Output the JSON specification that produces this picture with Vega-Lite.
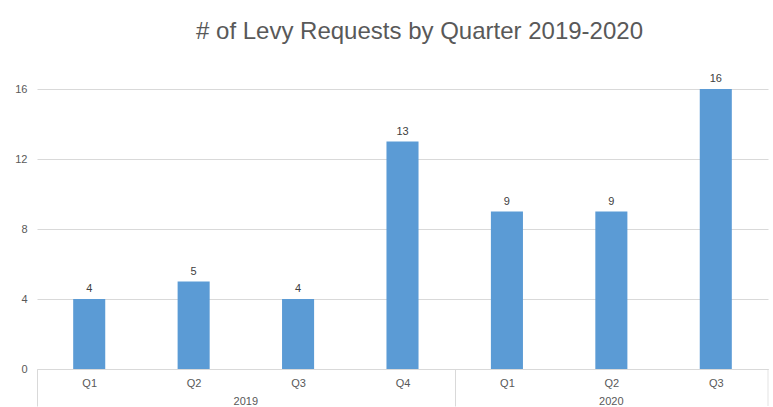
{
  "$schema": "https://vega.github.io/schema/vega-lite/v6.json",
  "autosize": {"type": "fit", "contains": "padding"},
  "width": 773,
  "height": 407,
  "padding": {"left": 14, "top": 20, "right": 4, "bottom": 0},
  "background": "white",
  "config": {
    "view": {"stroke": null},
    "font": "Liberation Sans",
    "axis": {"labelColor": "#595959", "labelFontSize": 11, "labelFont": "Liberation Sans"},
    "axisY": {"tickCount": 9}
  },
  "title": {
    "text": "# of Levy Requests by Quarter 2019-2020",
    "fontSize": 24,
    "font": "Liberation Sans",
    "fontWeight": "normal",
    "color": "#595959",
    "anchor": "middle",
    "dx": 17,
    "offset": 10
  },
  "data": {
    "values": [
      {"period": "2019-Q1", "year": "2019", "quarter": "Q1", "requests": 4},
      {"period": "2019-Q2", "year": "2019", "quarter": "Q2", "requests": 5},
      {"period": "2019-Q3", "year": "2019", "quarter": "Q3", "requests": 4},
      {"period": "2019-Q4", "year": "2019", "quarter": "Q4", "requests": 13},
      {"period": "2020-Q1", "year": "2020", "quarter": "Q1", "requests": 9},
      {"period": "2020-Q2", "year": "2020", "quarter": "Q2", "requests": 9},
      {"period": "2020-Q3", "year": "2020", "quarter": "Q3", "requests": 16}
    ]
  },
  "layer": [
    {
      "mark": {"type": "bar", "color": "#5B9BD5", "width": {"band": 0.307}},
      "encoding": {
        "x": {
          "field": "period",
          "type": "nominal",
          "scale": {"paddingInner": 0, "paddingOuter": 0},
          "axis": {
            "title": null,
            "labelAngle": 0,
            "labelExpr": "slice(datum.value, 5)",
            "labelOffset": 52.2,
            "domainColor": "#D9D9D9",
            "tickSize": 37,
            "tickOffset": -52.2,
            "tickColor": "#D9D9D9",
            "tickOpacity": {"condition": {"test": "datum.value == '2019-Q1' || datum.value == '2020-Q1'", "value": 1}, "value": 0},
            "labelPadding": -29
          }
        },
        "y": {
          "field": "requests",
          "type": "quantitative",
          "scale": {"domain": [0, 18], "nice": false},
          "axis": {
            "title": null,
            "values": [0, 2, 4, 6, 8, 10, 12, 14, 16, 18],
            "domain": false,
            "ticks": false,
            "grid": true,
            "gridColor": "#D9D9D9",
            "labelPadding": 10
          }
        }
      }
    },
    {
      "mark": {"type": "text", "baseline": "bottom", "dy": -5, "fontSize": 11, "color": "#404040"},
      "encoding": {
        "x": {"field": "period", "type": "nominal"},
        "y": {
          "field": "requests",
          "type": "quantitative",
          "axis": {
            "title": null,
            "values": [0, 2, 4, 6, 8, 10, 12, 14, 16, 18],
            "domain": false,
            "ticks": false,
            "grid": true,
            "gridColor": "#D9D9D9",
            "labelPadding": 10
          }
        },
        "text": {"field": "requests", "type": "quantitative"}
      }
    },
    {
      "data": {"values": [{"edge": "end", "period": "2020-Q3"}]},
      "mark": {"type": "tick", "orient": "vertical", "size": 37, "thickness": 1, "color": "#D9D9D9", "yOffset": 18.5},
      "encoding": {
        "x": {"field": "period", "type": "nominal", "bandPosition": 1},
        "y": {
          "datum": 0,
          "axis": {
            "title": null,
            "values": [0, 2, 4, 6, 8, 10, 12, 14, 16, 18],
            "domain": false,
            "ticks": false,
            "grid": true,
            "gridColor": "#D9D9D9",
            "labelPadding": 10
          }
        }
      }
    },
    {
      "data": {"values": [{"year": "2019", "period": "2019-Q3"}]},
      "mark": {"type": "text", "baseline": "middle", "dy": 33, "fontSize": 11, "color": "#595959"},
      "encoding": {
        "x": {"field": "period", "type": "nominal", "bandPosition": 0},
        "y": {
          "datum": 0,
          "axis": {
            "title": null,
            "values": [0, 2, 4, 6, 8, 10, 12, 14, 16, 18],
            "domain": false,
            "ticks": false,
            "grid": true,
            "gridColor": "#D9D9D9",
            "labelPadding": 10
          }
        },
        "text": {"field": "year"}
      }
    },
    {
      "data": {"values": [{"year": "2020", "period": "2020-Q2"}]},
      "mark": {"type": "text", "baseline": "middle", "dy": 33, "fontSize": 11, "color": "#595959"},
      "encoding": {
        "x": {"field": "period", "type": "nominal", "bandPosition": 0.5},
        "y": {
          "datum": 0,
          "axis": {
            "title": null,
            "values": [0, 2, 4, 6, 8, 10, 12, 14, 16, 18],
            "domain": false,
            "ticks": false,
            "grid": true,
            "gridColor": "#D9D9D9",
            "labelPadding": 10
          }
        },
        "text": {"field": "year"}
      }
    }
  ]
}
